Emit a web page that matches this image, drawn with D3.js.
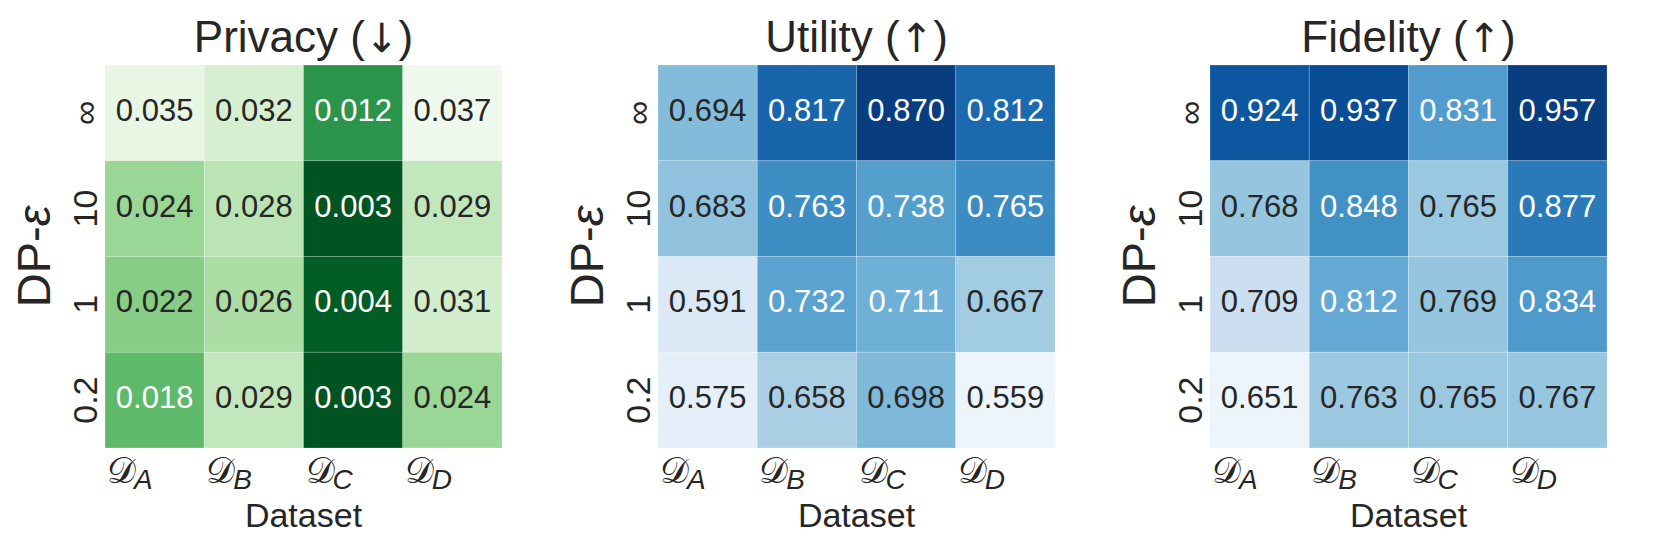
<!DOCTYPE html>
<html><head><meta charset="utf-8">
<script src="https://cdn.jsdelivr.net/npm/d3@7"></script>
<style>
body{margin:0;background:#fff;}
text{font-family:"Liberation Sans",Arial,sans-serif;}
</style></head>
<body><svg id="c" width="1660" height="552"></svg>
<script>
const datasets = ["A","B","C","D"];
const epsLabels = ["\u221E","10","1","0.2"];
const privacy = [
  [0.035,0.032,0.012,0.037],
  [0.024,0.028,0.003,0.029],
  [0.022,0.026,0.004,0.031],
  [0.018,0.029,0.003,0.024]];
const utility = [
  [0.694,0.817,0.870,0.812],
  [0.683,0.763,0.738,0.765],
  [0.591,0.732,0.711,0.667],
  [0.575,0.658,0.698,0.559]];
const fidelity = [
  [0.924,0.937,0.831,0.957],
  [0.768,0.848,0.765,0.877],
  [0.709,0.812,0.769,0.834],
  [0.651,0.763,0.765,0.767]];
const titleNames = ["Privacy","Utility","Fidelity"];
const titleArrows = ["\u2193","\u2191","\u2191"];

const greens = ["#f7fcf5","#e5f5e0","#c7e9c0","#a1d99b","#74c476","#41ab5d","#238b45","#006d2c","#00441b"];
const blues  = ["#f7fbff","#deebf7","#c6dbef","#9ecae1","#6baed6","#4292c6","#2171b5","#08519c","#08306b"];

function ramp(colors){
  const s = d3.scaleLinear().domain(d3.range(colors.length).map(i=>i/(colors.length-1))).range(colors).interpolate(d3.interpolateRgb).clamp(true);
  return t=>s(t);
}
function lum(c){
  const r = d3.rgb(c);
  const f = v=>{v/=255; return v<=0.03928? v/12.92 : Math.pow((v+0.055)/1.055,2.4);};
  return 0.2126*f(r.r)+0.7152*f(r.g)+0.0722*f(r.b);
}

const svg = d3.select("#c");
const panels = [
  {data:privacy, cmap:ramp(greens), reverse:true, left:105},
  {data:utility, cmap:ramp(blues), reverse:false, left:658},
  {data:fidelity, cmap:ramp(blues), reverse:false, left:1210}
];
const W = 397, yTop = 65, yBot = 448;

panels.forEach((p,pi)=>{
  const g = svg.append("g");
  const x = d3.scaleBand().domain(datasets).range([p.left, p.left+W]);
  const y = d3.scaleBand().domain(epsLabels).range([yTop, yBot]);
  const ext = d3.extent(p.data.flat());
  const t = d3.scaleLinear().domain(p.reverse ? [ext[1],ext[0]] : ext).range([0.05,0.95]);
  const cells = [];
  p.data.forEach((row,ri)=>row.forEach((v,ci)=>cells.push({r:epsLabels[ri], c:datasets[ci], v})));
  g.selectAll("rect").data(cells).join("rect")
    .attr("x",d=>x(d.c)).attr("y",d=>y(d.r))
    .attr("width",x.bandwidth()).attr("height",y.bandwidth())
    .attr("fill",d=>p.cmap(t(d.v)))
    .attr("stroke","#fff").attr("stroke-opacity",0.25).attr("stroke-width",0.8);
  g.selectAll("text.val").data(cells).join("text").attr("class","val")
    .attr("x",d=>x(d.c)+x.bandwidth()/2)
    .attr("y",d=>y(d.r)+y.bandwidth()/2+8)
    .attr("text-anchor","middle").attr("font-size",31)
    .attr("fill",d=>lum(p.cmap(t(d.v)))>0.408 ? "#262626" : "#ffffff")
    .text(d=>d.v.toFixed(3));
  const tt = g.append("text").attr("x",p.left+W/2).attr("y",52).attr("text-anchor","middle")
    .attr("font-size",44).attr("fill","#262626");
  tt.append("tspan").text(titleNames[pi] + " (");
  tt.append("tspan").attr("font-family","DejaVu Sans").attr("font-size",40).text(titleArrows[pi]);
  tt.append("tspan").text(")");
  epsLabels.forEach(l=>{
    const cy = y(l)+y.bandwidth()/2;
    g.append("text").attr("transform",`translate(${p.left-8},${cy}) rotate(-90)`)
      .attr("text-anchor","middle").attr("font-size",34).attr("fill","#262626").text(l);
  });
  const yl = g.append("text").attr("transform",`translate(${p.left-55},${(yTop+yBot)/2}) rotate(-90)`)
    .attr("text-anchor","middle").attr("font-size",47).attr("fill","#262626");
  yl.append("tspan").text("DP-");
  yl.append("tspan").attr("font-style","italic").text("\u03B5");
  datasets.forEach(d=>{
    const tx = g.append("text").attr("x",x(d)+2).attr("y",483).attr("fill","#262626");
    tx.append("tspan").attr("font-family","DejaVu Serif").attr("font-size",36).text("\uD835\uDC9F");
    tx.append("tspan").attr("font-style","italic").attr("font-size",28).attr("dy",6).attr("dx",-2).text(d);
  });
  g.append("text").attr("x",p.left+W/2).attr("y",527).attr("text-anchor","middle")
    .attr("font-size",34).attr("fill","#262626").text("Dataset");
});
</script></body></html>
